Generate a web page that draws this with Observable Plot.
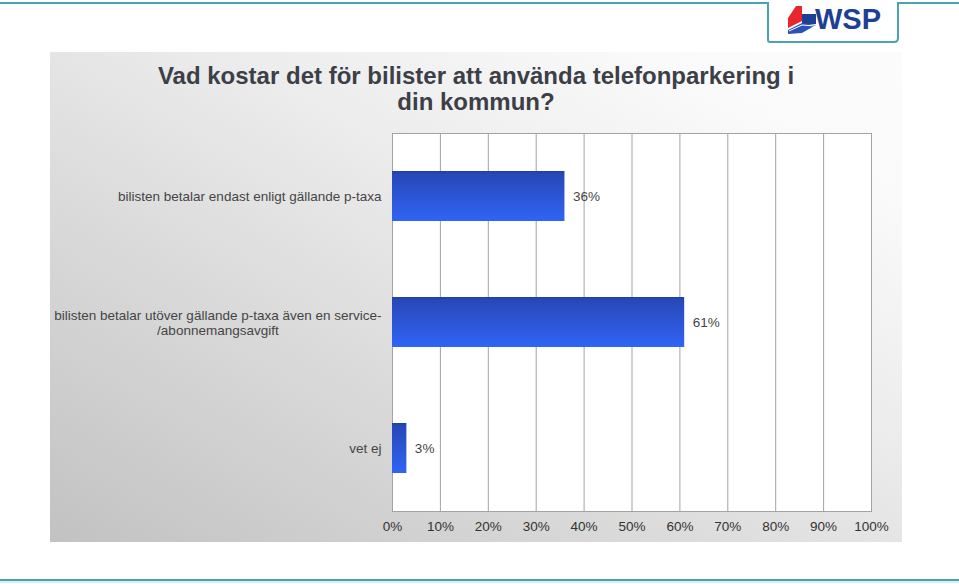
<!DOCTYPE html>
<html>
<head>
<meta charset="utf-8">
<script src="https://cdn.jsdelivr.net/npm/d3@7"></script>
<script src="https://cdn.jsdelivr.net/npm/@observablehq/plot@0.6"></script>
<style>
  html, body { margin: 0; padding: 0; background: #fff; }
  body { width: 959px; height: 584px; position: relative; overflow: hidden; font-family: "Liberation Sans", Arial, Helvetica, sans-serif; }
  #deco { position: absolute; left: 0; top: 0; }
  #panel { position: absolute; left: 50px; top: 52px; width: 852px; height: 490px;
    background: linear-gradient(to top right, #c2c2c2 0%, #dadada 35%, #ececec 60%, #fafafa 85%, #fbfbfb 100%); }
  #title { position: absolute; left: 50px; top: 63px; width: 852px; text-align: center;
    font-weight: bold; font-size: 24px; line-height: 26px; color: #3c3f48; }
  #chart { position: absolute; left: 50px; top: 52px; }
</style>
</head>
<body>
<svg id="deco" width="959" height="584">
  <path d="M0,3 H768 V40 Q768,42 770,42 H894 Q898,42 898,38 V3 H959" fill="none" stroke="#4aa3ad" stroke-width="2"/>
  <line x1="0" x2="959" y1="580" y2="580" stroke="#4aa3ad" stroke-width="2"/>
  <line x1="0" x2="959" y1="582" y2="582" stroke="#b9dde1" stroke-width="1"/>
  <g transform="translate(788,6)">
    <polygon points="8,0 14,0 14,15 0,22 0,12" fill="#e8262e"/>
    <polygon points="14,8 28,8 28,18 14,18" fill="#1d3f94"/>
    <polygon points="0,24 14,17 28,19 14,27 0,28" fill="#2a52b8"/>
    <polyline points="1,25 14,19 27,20" fill="none" stroke="#ffffff" stroke-width="1"/>
  </g>
  <text x="815" y="29" font-family="Liberation Sans, Arial, sans-serif" font-weight="bold" font-size="29" fill="#1d3f94">WSP</text>
</svg>
<div id="panel"></div>
<div id="title">Vad kostar det för bilister att använda telefonparkering i<br>din kommun?</div>
<div id="chart"></div>
<script>
const categories = [
  "bilisten betalar endast enligt gällande p-taxa",
  "bilisten betalar utöver gällande p-taxa även en service-/abonnemangsavgift",
  "vet ej"
];
const categoryLabels = [
  "bilisten betalar endast enligt gällande p-taxa",
  "bilisten betalar utöver gällande p-taxa även en service-\n/abonnemangsavgift",
  "vet ej"
];
const values = [36, 61, 3];
const xTicks = [0, 10, 20, 30, 40, 50, 60, 70, 80, 90, 100];

const data = categories.map((c, i) => ({category: c, value: values[i]}));
const labelOf = new Map(categories.map((c, i) => [c, categoryLabels[i]]));

const gradientDefs = () => {
  const ns = "http://www.w3.org/2000/svg";
  const defs = document.createElementNS(ns, "defs");
  defs.innerHTML = `<linearGradient id="barGrad" x1="0" y1="0" x2="0" y2="1">
      <stop offset="0" stop-color="#1f3fa8"/>
      <stop offset="0.06" stop-color="#2848b8"/>
      <stop offset="1" stop-color="#3064f5"/>
    </linearGradient>`;
  return defs;
};

const chart = Plot.plot({
  width: 852,
  height: 490,
  marginLeft: 342,
  marginRight: 31,
  marginTop: 81,
  marginBottom: 31,
  style: {background: "transparent", fontFamily: "Liberation Sans, Arial, Helvetica, sans-serif", fontSize: "13.5px", color: "#454545"},
  x: {domain: [0, 100], ticks: xTicks},
  y: {domain: categories, paddingInner: 0.6, paddingOuter: 0.3},
  marks: [
    gradientDefs,
    Plot.frame({fill: "white", stroke: null}),
    Plot.gridX(xTicks, {stroke: "#a3a3a3", strokeOpacity: 1}),
    Plot.frame({stroke: "#a3a3a3"}),
    Plot.barX(data, {x: "value", y: "category", fill: "url(#barGrad)"}),
    Plot.text(data, {x: "value", y: "category", text: d => d.value + "%", textAnchor: "start", dx: 8, fill: "#454545", fontSize: 13.5}),
    Plot.axisX(xTicks, {tickSize: 0, tickPadding: 10, tickFormat: d => d + "%", label: null, fontSize: 13.5, fill: "#333"}),
    Plot.axisY({tickSize: 0, tickPadding: 11, tickFormat: d => labelOf.get(d), label: null, fontSize: 13.5, fill: "#454545", lineHeight: 1.1})
  ]
});
document.getElementById("chart").appendChild(chart);

// center the lines of wrapped category labels relative to each other
chart.querySelectorAll("text").forEach(t => {
  const spans = t.querySelectorAll("tspan");
  if (spans.length > 1) {
    const lens = Array.from(spans, s => s.getComputedTextLength());
    const m = Math.max(...lens);
    spans.forEach((s, i) => s.setAttribute("dx", -(m - lens[i]) / 2));
  }
});
</script>
</body>
</html>
